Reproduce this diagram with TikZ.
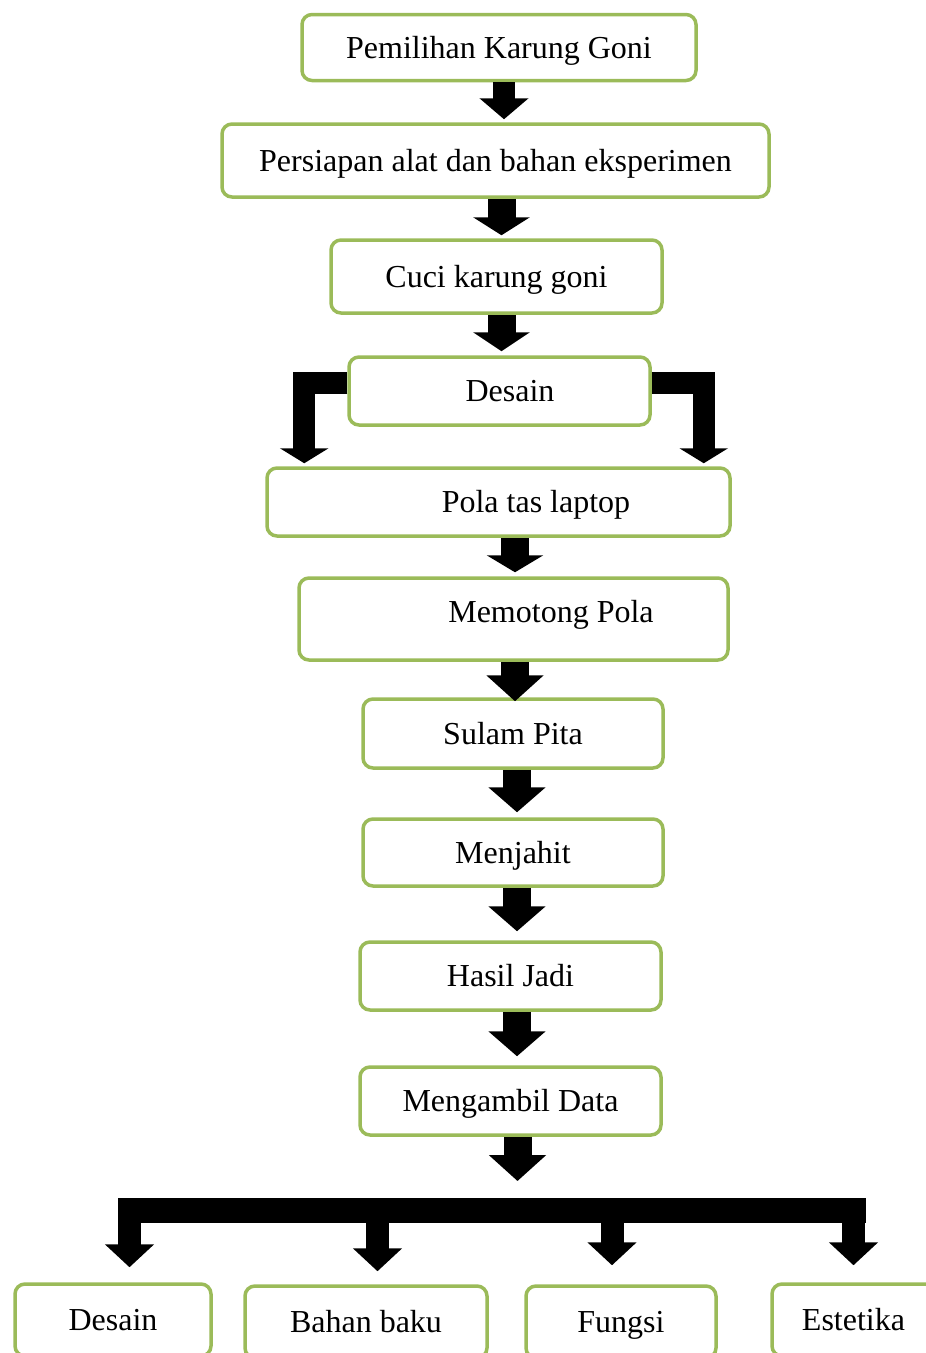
\documentclass[tikz,border=0pt]{standalone}
\usepackage{fontspec}
\setmainfont{Liberation Serif}
\usepackage{tikz}
\usetikzlibrary{arrows.meta,calc}
\definecolor{leafGreen}{RGB}{155,187,89}

\begin{document}
\begin{tikzpicture}[
  x=1pt, y=-1pt,
  box/.style={draw=leafGreen, line width=3.5pt, rounded corners=10pt, fill=white, align=center, inner sep=0pt, font=\fontsize{32}{38}\selectfont, text height=29pt, text depth=8pt},
  txt/.style={inner sep=0pt, font=\fontsize{32}{38}\selectfont, text height=29pt, text depth=8pt},
  flow/.style={line width=28pt, -{Triangle[width=56pt, length=#1]}},
  flow/.default=24pt,
  slim/.style={line width=22pt, -{Triangle[width=48pt, length=#1]}},
  slim/.default=21pt,
  fork/.style={line width=23pt, -{Triangle[width=48pt, length=23pt]}}
]
  \useasboundingbox (0,0) rectangle (926,1353);

  \node[box, minimum width=394pt, minimum height=66pt] (pilih) at (499,47.5) {Pemilihan Karung Goni};
  \node[box, minimum width=547pt, minimum height=73pt] (persiapan) at (495.5,160.5) {Persiapan alat dan bahan eksperimen};
  \node[box, minimum width=331pt, minimum height=73pt] (cuci) at (496.5,276.5) {Cuci karung goni};
  \node[box, minimum width=301pt, minimum height=68pt] (desain) at (499.5,391) {};
  \node[txt] (desainT) at (510,391) {Desain};
  \node[box, minimum width=463pt, minimum height=68pt] (pola) at (498.5,502) {};
  \node[txt] (polaT) at (536,502) {Pola tas laptop};
  \node[box, minimum width=429pt, minimum height=82pt] (potong) at (513.5,619) {};
  \node[txt] (potongT) at (551,612) {Memotong Pola};
  \node[box, minimum width=300pt, minimum height=69pt] (sulam) at (513,733.5) {Sulam Pita};
  \node[box, minimum width=300pt, minimum height=67pt] (jahit) at (513,852.5) {Menjahit};
  \node[box, minimum width=301pt, minimum height=68pt] (hasil) at (510.5,976) {Hasil Jadi};
  \node[box, minimum width=301pt, minimum height=68pt] (ambil) at (510.5,1101) {Mengambil Data};

  \node[box, minimum width=196pt, minimum height=72pt] (desainB) at (113,1320) {Desain};
  \node[box, minimum width=242pt, minimum height=72pt] (bahan) at (366,1322) {Bahan baku};
  \node[box, minimum width=190pt, minimum height=72pt] (fungsi) at (621,1322) {Fungsi};
  \node[box, minimum width=163pt, minimum height=72pt] (estetika) at (853.5,1320) {Estetika};

  \coordinate (split) at (517.5,1181);
  \coordinate (barL) at (118,1210.5);
  \coordinate (barR) at (866,1210.5);

  \draw[slim, shorten >=3pt] ([xshift=5pt]pilih.south) -- ([xshift=5pt]pilih.south |- persiapan.north);
  \draw[flow=18pt, shorten >=3pt] ([xshift=6pt]persiapan.south) -- ([xshift=6pt]persiapan.south |- cuci.north);
  \draw[flow=19pt, shorten >=4pt] ([xshift=5pt]cuci.south) -- ([xshift=5pt]cuci.south |- desain.north);
  \draw[slim=15pt, shorten >=3pt] ([yshift=8pt]desain.west) -| ([xshift=39pt]pola.north west);
  \draw[slim=15pt, shorten >=3pt] ([yshift=8pt]desain.east) -| ([xshift=-28pt]pola.north east);
  \draw[flow=17pt, shorten >=4pt] ([xshift=16.5pt]pola.south) -- ([xshift=16.5pt]pola.south |- potong.north);
  \draw[flow=26pt, shorten >=-4pt] ([xshift=1.5pt]potong.south) -- ([xshift=1.5pt]potong.south |- sulam.north);
  \draw[flow=25pt, shorten >=5pt] ([xshift=4pt]sulam.south) -- ([xshift=4pt]sulam.south |- jahit.north);
  \draw[flow=25pt, shorten >=9pt] ([xshift=4pt]jahit.south) -- ([xshift=4pt]jahit.south |- hasil.north);
  \draw[flow=25pt, shorten >=9pt] ([xshift=6.5pt]hasil.south) -- ([xshift=6.5pt]hasil.south |- ambil.north);
  \draw[flow=26pt] ([xshift=7pt]ambil.south) -- (split);

  \draw[line width=25pt] (barL) -- (barR);
  \draw[fork, shorten >=15pt] ([xshift=16.5pt]desainB.north |- barL) -- ([xshift=16.5pt]desainB.north);
  \draw[fork, shorten >=13pt] ([xshift=11.5pt]bahan.north |- barL) -- ([xshift=11.5pt]bahan.north);
  \draw[fork, shorten >=19pt] ([xshift=-9pt]fungsi.north |- barL) -- ([xshift=-9pt]fungsi.north);
  \draw[fork, shorten >=17pt] (estetika.north |- barL) -- (estetika.north);
\end{tikzpicture}
\end{document}
